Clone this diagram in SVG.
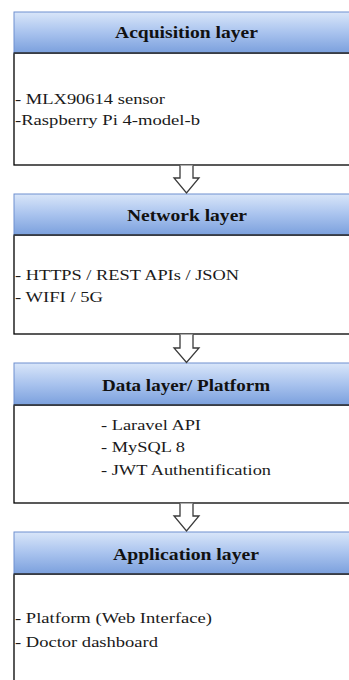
<svg xmlns="http://www.w3.org/2000/svg" width="349" height="680" viewBox="0 0 349 680">
<defs>
<linearGradient id="hg" x1="0" y1="0" x2="0" y2="1">
<stop offset="0" stop-color="#d9e6f9"/>
<stop offset="0.5" stop-color="#a9c3ee"/>
<stop offset="1" stop-color="#7ba0dd"/>
</linearGradient>
<style>
.hdr{fill:url(#hg);stroke:#6f8fd0;stroke-width:1}
.hline{stroke:#2b2b2b;stroke-width:1.5}
.body{fill:#fff;stroke:#000;stroke-width:1.3}
.ht{font-family:'Liberation Serif','Times New Roman',serif;font-weight:bold;font-size:16px;fill:#111;text-anchor:middle}
.bt{font-family:'Liberation Serif','Times New Roman',serif;font-size:14.5px;fill:#1a1a1a}
.arr{fill:#fff;stroke:#3a3a3a;stroke-width:1.3;stroke-linejoin:miter}
</style>
</defs>
<rect width="349" height="680" fill="#fff"/>
<g id="acquisition">
<rect class="body" x="14" y="53" width="345" height="112"/>
<rect class="hdr" x="14" y="12" width="345" height="41"/>
<line class="hline" x1="14" y1="53" x2="359" y2="53"/>
<text class="ht" x="186.5" y="38" textLength="143" lengthAdjust="spacingAndGlyphs">Acquisition layer</text>
<text class="bt" x="15" y="104" textLength="150" lengthAdjust="spacingAndGlyphs">- MLX90614 sensor</text>
<text class="bt" x="15" y="125" textLength="185" lengthAdjust="spacingAndGlyphs">-Raspberry Pi 4-model-b</text>
</g>
<g id="network">
<rect class="body" x="14" y="235" width="345" height="99"/>
<rect class="hdr" x="14" y="194" width="345" height="41"/>
<line class="hline" x1="14" y1="235" x2="359" y2="235"/>
<text class="ht" x="187" y="221" textLength="120" lengthAdjust="spacingAndGlyphs">Network layer</text>
<text class="bt" x="15" y="280" textLength="224" lengthAdjust="spacingAndGlyphs">- HTTPS / REST APIs / JSON</text>
<text class="bt" x="15" y="301.5" textLength="88" lengthAdjust="spacingAndGlyphs">- WIFI / 5G</text>
</g>
<g id="data">
<rect class="body" x="14" y="405" width="345" height="98"/>
<rect class="hdr" x="14" y="363" width="345" height="42"/>
<line class="hline" x1="14" y1="405" x2="359" y2="405"/>
<text class="ht" x="186" y="390.5" textLength="168" lengthAdjust="spacingAndGlyphs">Data layer/ Platform</text>
<text class="bt" x="101" y="430" textLength="100" lengthAdjust="spacingAndGlyphs">- Laravel API</text>
<text class="bt" x="101" y="452" textLength="84" lengthAdjust="spacingAndGlyphs">- MySQL 8</text>
<text class="bt" x="101" y="475" textLength="170" lengthAdjust="spacingAndGlyphs">- JWT Authentification</text>
</g>
<g id="application">
<rect class="body" x="14" y="574" width="345" height="120"/>
<rect class="hdr" x="14" y="532" width="345" height="42"/>
<line class="hline" x1="14" y1="574" x2="359" y2="574"/>
<text class="ht" x="186" y="560" textLength="146" lengthAdjust="spacingAndGlyphs">Application layer</text>
<text class="bt" x="15" y="623" textLength="197" lengthAdjust="spacingAndGlyphs">- Platform (Web Interface)</text>
<text class="bt" x="15" y="646.5" textLength="143" lengthAdjust="spacingAndGlyphs">- Doctor dashboard</text>
</g>
<g id="connectors">
<path class="arr" d="M180,165.5 V178 H174 L186.5,193 L199,178 H193 V165.5"/>
<path class="arr" d="M180,334.5 V348 H174 L186.5,362.5 L199,348 H193 V334.5"/>
<path class="arr" d="M180,503.5 V516 H174 L186.5,531 L199,516 H193 V503.5"/>
</g>
</svg>
